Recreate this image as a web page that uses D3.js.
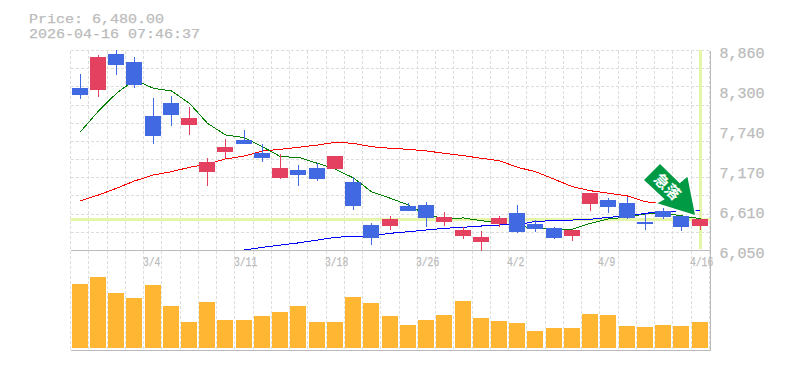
<!DOCTYPE html>
<html>
<head>
<meta charset="utf-8">
<script src="https://cdn.jsdelivr.net/npm/d3@7"></script>
<style>
  html, body { margin: 0; padding: 0; background: #fff; }
  svg { display: block; }
  text { font-family: "Liberation Mono", monospace; fill: #bbb; stroke: #bbb; stroke-width: 0.25; }
</style>
</head>
<body>
<svg id="chart" width="785" height="370"></svg>
<script>
const dates = ['3/4', '3/11', '3/18', '3/26', '4/2', '4/9', '4/16'];
const dateIdx = [4, 9, 14, 19, 24, 29, 34];
const priceTicks = [8860, 8300, 7740, 7170, 6610, 6050];

const opens  = [8326, 8298, 8804, 8691, 7933, 8115, 7806, 7146, 7427, 7596, 7413, 7062, 7174, 7202, 7188, 7005, 6401, 6387, 6668, 6682, 6443, 6247, 6162, 6415, 6570, 6415, 6359, 6247, 6696, 6753, 6710, 6443, 6598, 6528, 6387];
const closes = [8228, 8762, 8649, 8368, 7652, 7947, 7905, 7286, 7497, 7539, 7343, 7202, 7104, 7048, 7371, 6668, 6219, 6486, 6598, 6500, 6514, 6331, 6233, 6500, 6303, 6345, 6219, 6331, 6851, 6654, 6500, 6415, 6514, 6373, 6480];
const highs  = [8523, 8790, 8860, 8762, 8186, 8214, 8059, 7343, 7610, 7736, 7539, 7399, 7244, 7272, 7371, 7076, 6429, 6528, 6710, 6724, 6584, 6373, 6317, 6528, 6682, 6472, 6373, 6331, 6851, 6781, 6795, 6556, 6640, 6528, 6480];
const lows   = [8172, 8200, 8509, 8326, 7539, 7792, 7666, 6949, 7343, 7539, 7286, 7048, 6949, 7019, 7188, 6612, 6120, 6331, 6598, 6373, 6387, 6205, 6036, 6373, 6289, 6303, 6205, 6176, 6598, 6570, 6486, 6331, 6486, 6317, 6331];
const volumes = [64, 71, 55, 50, 63, 42, 26, 46, 28, 28, 32, 36, 42, 26, 26, 51, 45, 32, 23, 28, 33, 47, 30, 27, 25, 17, 20, 20, 34, 33, 22, 21, 23, 22, 26];

const maShort = [7712, 8003, 8252, 8438, 8322, 8284, 8111, 7830, 7666, 7628, 7501, 7361, 7352, 7268, 7184, 7062, 6869, 6776, 6682, 6542, 6495, 6500, 6462, 6429, 6387, 6359, 6341, 6341, 6425, 6486, 6514, 6556, 6570, 6530, 6490];
const maMid = [6743, 6823, 6917, 7020, 7104, 7150, 7212, 7258, 7329, 7371, 7441, 7465, 7493, 7525, 7563, 7549, 7501, 7479, 7465, 7441, 7409, 7375, 7338, 7305, 7212, 7150, 7043, 6939, 6883, 6847, 6809, 6729, 6696, null, null];
const maLong = [null, null, null, null, null, null, null, null, null, 6050, 6088, 6120, 6150, 6190, 6228, 6242, 6251, 6285, 6307, 6331, 6355, 6369, 6387, 6401, 6405, 6453, 6462, 6471, 6481, 6509, 6528, 6566, 6588, 6602, 6612];

const lastPrice = 6480;
const UP = '#e4405f', DOWN = '#4169e1', VOL = '#ffb733', GRID = '#ddd', AXIS = '#bbb', MARK = '#e6f6a8';

const svg = d3.select('#chart');
const plotL = 70.5, plotR = 710.5, plotT = 50.5, priceB = 250.5, volB = 350.5;

const idx = d3.range(opens.length);
const x = d3.scaleBand().domain(idx).range([70.9, 709.1]);
const y = d3.scaleLinear().domain([6050, 8860]).range([250, 50]);
const yv = d3.scaleLinear().domain([0, d3.max(volumes)]).range([348, 277]);
const cx = (i) => Math.round(x(i) + x.bandwidth() / 2 - 0.4);
const barX = (i) => cx(i) - 8;

// grid
const gridY = d3.range(11).map((i) => Math.round(50 + i * 200 / 11) + 0.5);
const gridX = d3.range(36).map((i) => Math.round(70 + i * 639 / 35) + 0.5);
const grid = svg.append('g').attr('stroke', GRID).attr('stroke-dasharray', '3,2').attr('stroke-width', 1).attr('shape-rendering', 'crispEdges');
grid.selectAll('.h').data(gridY).join('line').attr('class', 'h')
  .attr('x1', plotL).attr('x2', plotR).attr('y1', (d) => d).attr('y2', (d) => d);
grid.selectAll('.v').data(gridX).join('line').attr('class', 'v')
  .attr('x1', (d) => d).attr('x2', (d) => d).attr('y1', plotT).attr('y2', volB);

// axis lines
const axes = svg.append('g').attr('stroke', AXIS).attr('stroke-width', 1).attr('shape-rendering', 'crispEdges');
axes.append('line').attr('x1', plotL).attr('x2', plotR).attr('y1', priceB).attr('y2', priceB);
axes.append('line').attr('x1', plotL).attr('x2', plotR).attr('y1', volB).attr('y2', volB);
axes.append('line').attr('x1', plotR).attr('x2', plotR).attr('y1', plotT).attr('y2', volB);

// current price + current day markers
svg.append('rect').attr('x', plotL).attr('width', plotR - plotL).attr('y', Math.round(y(lastPrice)) - 1).attr('height', 3).attr('fill', MARK);
svg.append('rect').attr('x', cx(34) - 1).attr('width', 3).attr('y', 50).attr('height', 199).attr('fill', MARK);

// moving averages
const line = d3.line().defined((d) => d != null).x((d, i) => cx(i) + 0.5).y((d) => y(d));
[[maMid, '#f00'], [maShort, '#008000'], [maLong, '#00f']].forEach(([vals, col]) => {
  svg.append('path').attr('d', line(vals)).attr('fill', 'none').attr('stroke', col).attr('stroke-width', 1)
    .attr('shape-rendering', 'crispEdges');
});

// candles
const candles = svg.append('g').attr('shape-rendering', 'crispEdges');
candles.selectAll('line').data(idx).join('line')
  .attr('x1', (i) => cx(i) + 0.5).attr('x2', (i) => cx(i) + 0.5)
  .attr('y1', (i) => Math.round(y(highs[i]))).attr('y2', (i) => Math.round(y(lows[i])))
  .attr('stroke', (i) => (closes[i] > opens[i] ? UP : DOWN));
candles.selectAll('rect').data(idx).join('rect')
  .attr('x', barX).attr('width', 16)
  .attr('y', (i) => Math.round(y(Math.max(opens[i], closes[i]))))
  .attr('height', (i) => Math.max(1, Math.round(y(Math.min(opens[i], closes[i]))) - Math.round(y(Math.max(opens[i], closes[i])))))
  .attr('fill', (i) => (closes[i] > opens[i] ? UP : DOWN));

// volume
svg.append('g').attr('shape-rendering', 'crispEdges').selectAll('rect').data(idx).join('rect')
  .attr('x', barX).attr('width', 16)
  .attr('y', (i) => Math.round(yv(volumes[i])))
  .attr('height', (i) => 348 - Math.round(yv(volumes[i])))
  .attr('fill', VOL);

// drop arrow, tip sits on the last candle
const arrow = svg.append('g').attr('transform', `translate(${cx(34) - 5},${Math.round(y(lastPrice)) - 4})`);
arrow.append('polygon')
  .attr('points', '0,0 -37.6,-11.7 -30.3,-15.7 -51,-35 -35,-51 -15.3,-31.7 -7.6,-38.3')
  .attr('fill', '#094').attr('stroke', '#fff').attr('stroke-width', 3).attr('paint-order', 'stroke');
arrow.append('text').attr('transform', 'translate(-28,-28) rotate(45)')
  .attr('text-anchor', 'middle').attr('dy', 5).attr('font-size', 15).attr('font-weight', 700)
  .style('font-family', '"Noto Sans CJK JP"').style('fill', '#fff').style('stroke', 'none').text('急落');

// labels, squeezed a bit shorter and wide like the bitmap font
const wide = (sel, w) => sel.attr('textLength', w).attr('lengthAdjust', 'spacingAndGlyphs');
svg.append('text').attr('x', 29).attr('y', 23).attr('font-size', 13).call(wide, 135).text(`Price: ${d3.format(',.2f')(lastPrice)}`);
svg.append('text').attr('x', 29).attr('y', 38).attr('font-size', 13).call(wide, 171).text('2026-04-16 07:46:37');
svg.selectAll('.price').data(priceTicks).join('text').attr('class', 'price')
  .attr('x', 719.5).attr('y', (d) => y(d) + 8).attr('font-size', 14).call(wide, 45).text(d3.format(','));
svg.selectAll('.date').data(dates).join('text').attr('class', 'date')
  .attr('x', (d, i) => cx(dateIdx[i]) - 10).attr('y', 266).attr('font-size', 12)
  .attr('textLength', (d) => d.length * 5.8).attr('lengthAdjust', 'spacingAndGlyphs').text((d) => d);
</script>
</body>
</html>
